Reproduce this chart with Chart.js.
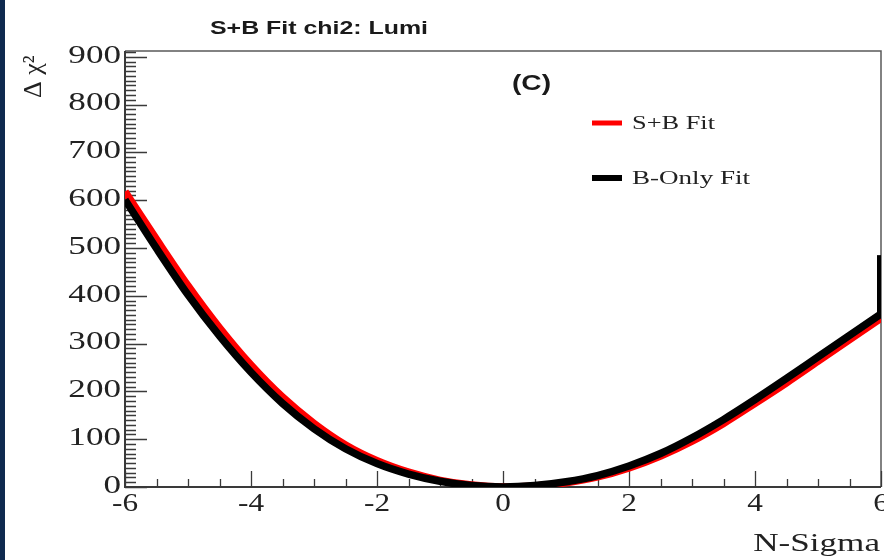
<!DOCTYPE html>
<html>
<head>
<meta charset="utf-8">
<script src="https://cdn.jsdelivr.net/npm/chart.js@4/dist/chart.umd.min.js"></script>
<style>
html,body{margin:0;padding:0;background:#fff;}
#wrap{position:relative;width:884px;height:560px;}
canvas{display:block;}
</style>
</head>
<body>
<div id="wrap"><canvas id="c" width="884" height="560"></canvas></div>
<script>
// ---- data ----
const chartTitle = "S+B Fit chi2: Lumi";
const panelTag = "(C)";
const xAxisTitle = "N-Sigma";
const yAxisTitle = "\u0394 \u03C7\u00B2";
const seriesLabels = ["S+B Fit", "B-Only Fit"];

const nSigma   = [-6,-5.5,-5,-4.5,-4,-3.5,-3,-2.5,-2,-1.5,-1,-0.5,0,0.5,1,1.5,2,2.5,3,3.5,4,4.5,5,5.5,6];
const sbFit    = [618,518,421,333,255,188,133,88,55,31,14,4,0,2,9,21,40,65,96,133,175,218,263,308,353];
const bOnlyFit = [601,499,402,316,240,175,122,80,49,27,12,3,0,3,11,24,44,70,103,141,183,227,272,317,362];
const bOnlyEdge = [362, 485];   // vertical stub of the B-only curve at N-Sigma = 6

const xTickValues = [-6,-4,-2,0,2,4,6];
const xTickLabels = ["-6","-4","-2","0","2","4","6"];
const yTickValues = [0,100,200,300,400,500,600,700,800,900];
const yTickLabels = ["0","100","200","300","400","500","600","700","800","900"];

const xMin = -6, xMax = 6, yMin = 0, yMax = 912;

// ---- helpers ----
const SX = 1.35; // horizontal stretch of the reference picture
function drawText(ctx, text, x, y, font, align, sx, color) {
  ctx.save();
  ctx.font = font;
  ctx.fillStyle = color || '#222';
  ctx.textAlign = align;
  ctx.translate(x, y);
  ctx.scale(sx, 1);
  ctx.fillText(text, 0, 0);
  ctx.restore();
}
function fitText(ctx, text, x, y, font, width, color) {
  ctx.save();
  ctx.font = font;
  const w = ctx.measureText(text).width;
  ctx.fillStyle = color || '#222';
  ctx.textAlign = 'left';
  ctx.translate(x, y);
  ctx.scale(width / w, 1);
  ctx.fillText(text, 0, 0);
  ctx.restore();
}

const rootStyle = {
  id: 'rootStyle',
  beforeDraw(chart) {
    const ctx = chart.ctx;
    ctx.save();
    ctx.fillStyle = '#ffffff';
    ctx.fillRect(0, 0, chart.width, chart.height);
    ctx.fillStyle = '#0f2a4f';
    ctx.fillRect(0, 0, 5, chart.height);
    ctx.restore();
  },
  beforeDatasetsDraw(chart) {
    const ctx = chart.ctx;
    const a = chart.chartArea;
    const xs = chart.scales.x, ys = chart.scales.y;
    ctx.save();
    // frame top / right
    ctx.strokeStyle = '#5a5a5a';
    ctx.lineWidth = 1.5;
    ctx.beginPath();
    ctx.moveTo(a.left, a.top); ctx.lineTo(a.right, a.top); ctx.lineTo(a.right, a.bottom);
    ctx.stroke();
    // axes
    ctx.strokeStyle = '#3a3a3a';
    ctx.lineWidth = 2;
    ctx.beginPath();
    ctx.moveTo(a.left, a.top); ctx.lineTo(a.left, a.bottom); ctx.lineTo(a.right, a.bottom);
    ctx.stroke();
    // y ticks (inward)
    ctx.lineWidth = 1.3;
    ctx.strokeStyle = '#3a3a3a';
    ctx.beginPath();
    for (let v = yMin; v <= yMax; v += 10) {
      const py = Math.round(ys.getPixelForValue(v)) + 0.5;
      const len = (v % 100 === 0) ? 22 : 11;
      ctx.moveTo(a.left, py); ctx.lineTo(a.left + len, py);
    }
    // x ticks (inward)
    for (let v = xMin; v <= xMax + 1e-9; v += 0.5) {
      const px = Math.round(xs.getPixelForValue(v)) + 0.5;
      const len = (Math.abs(v % 2) < 1e-9) ? 16 : 8;
      ctx.moveTo(px, a.bottom); ctx.lineTo(px, a.bottom - len);
    }
    ctx.stroke();
    ctx.restore();
  },
  afterDraw(chart) {
    const ctx = chart.ctx;
    const a = chart.chartArea;
    const xs = chart.scales.x, ys = chart.scales.y;
    ctx.save();
    ctx.textBaseline = 'middle';
    yTickValues.forEach((v, i) => {
      drawText(ctx, yTickLabels[i], a.left - 4, ys.getPixelForValue(v) - 1, '26px "Liberation Serif", "Times New Roman", serif', 'right', SX);
    });
    ctx.textBaseline = 'alphabetic';
    xTickValues.forEach((v, i) => {
      drawText(ctx, xTickLabels[i], xs.getPixelForValue(v), a.bottom + 24, '25px "Liberation Serif", "Times New Roman", serif', 'center', 1.25);
    });
    // axis titles
    drawText(ctx, xAxisTitle, 880, 551, '26px "Liberation Serif", "Times New Roman", serif', 'right', SX);
    ctx.save();
    ctx.translate(41, 98);
    ctx.rotate(-Math.PI / 2);
    ctx.font = '26px "Liberation Serif", "Times New Roman", serif';
    ctx.fillStyle = '#222';
    ctx.textAlign = 'left';
    ctx.fillText(yAxisTitle, 0, 0);
    ctx.restore();
    // title and panel tag
    fitText(ctx, chartTitle, 210, 34, 'bold 18px "Liberation Sans", Arial, sans-serif', 218, '#1a1a1a');
    fitText(ctx, panelTag, 512, 90, 'bold 22px "Liberation Sans", Arial, sans-serif', 39, '#1a1a1a');
    // legend
    const ds = chart.data.datasets;
    const legendRows = [{y: 123, ds: ds[0], w: 83, lw: 5}, {y: 178, ds: ds[1], w: 118, lw: 6}];
    legendRows.forEach(r => {
      ctx.strokeStyle = r.ds.borderColor;
      ctx.lineWidth = r.lw;
      ctx.beginPath(); ctx.moveTo(592, r.y); ctx.lineTo(622, r.y); ctx.stroke();
      fitText(ctx, r.ds.label, 632, r.y + 6, '18px "Liberation Serif", "Times New Roman", serif', r.w, '#222');
    });
    ctx.restore();
  }
};

const toPts = (xs, ys) => xs.map((x, i) => ({x: x, y: ys[i]}));

new Chart(document.getElementById('c'), {
  type: 'line',
  data: {
    datasets: [
      {label: seriesLabels[0], data: toPts(nSigma, sbFit), borderColor: '#ff0000', borderWidth: 7.5,
       pointRadius: 0, cubicInterpolationMode: 'monotone', fill: false, order: 3},
      {label: seriesLabels[1], data: toPts(nSigma, bOnlyFit), borderColor: '#000000', borderWidth: 7.5,
       pointRadius: 0, cubicInterpolationMode: 'monotone', fill: false, order: 2},
      {label: '', data: toPts([6, 6], bOnlyEdge), borderColor: '#000000', borderWidth: 8,
       pointRadius: 0, tension: 0, fill: false, order: 1}
    ]
  },
  options: {
    responsive: false,
    devicePixelRatio: 1,
    animation: false,
    layout: {padding: {top: 51, right: 3, left: 0, bottom: 0}},
    plugins: {legend: {display: false}, title: {display: false}, tooltip: {enabled: false}},
    scales: {
      x: {type: 'linear', min: xMin, max: xMax,
          ticks: {display: false, stepSize: 2}, grid: {display: false}, border: {display: false},
          afterFit: s => { s.height = 73; }},
      y: {type: 'linear', min: yMin, max: yMax,
          ticks: {display: false, stepSize: 100}, grid: {display: false}, border: {display: false},
          afterFit: s => { s.width = 125; }}
    }
  },
  plugins: [rootStyle]
});
</script>
</body>
</html>
